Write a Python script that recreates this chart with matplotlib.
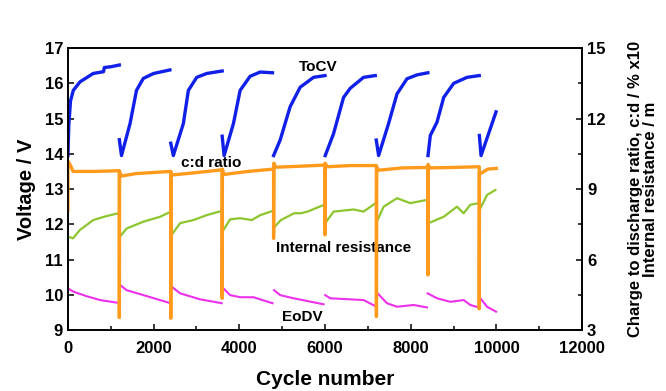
import matplotlib

matplotlib.use("Agg")
import matplotlib.pyplot as plt
from matplotlib.ticker import MultipleLocator

plt.rcParams["font.family"] = ["Liberation Sans", "DejaVu Sans"]
plt.rcParams["font.weight"] = "bold"

# --- data (cycle number vs value) ---
# ToCV, left axis (V), one list per 1200-cycle block
tocv_cycle = [
    [0, 20, 60, 125, 280, 590, 830, 850, 1000, 1200],
    [1200, 1250, 1450, 1600, 1760, 2000, 2380],
    [2400, 2460, 2694, 2811, 3006, 3240, 3600],
    [3600, 3645, 3863, 4019, 4252, 4486, 4774],
    [4800, 4953, 5187, 5421, 5732, 6000],
    [6005, 6199, 6433, 6589, 6900, 7173],
    [7196, 7251, 7484, 7680, 7913, 8147, 8400],
    [8404, 8458, 8614, 8770, 9003, 9315, 9600],
    [9603, 9642, 9992],
]
tocv_volt = [
    [13.95, 14.8, 15.5, 15.8, 16.04, 16.28, 16.33, 16.45, 16.47, 16.52],
    [14.4, 13.95, 14.86, 15.8, 16.14, 16.28, 16.38],
    [14.3, 13.95, 14.86, 15.8, 16.17, 16.28, 16.35],
    [14.5, 13.95, 14.86, 15.8, 16.2, 16.32, 16.3],
    [13.95, 14.39, 15.34, 15.89, 16.17, 16.22],
    [13.95, 14.57, 15.6, 15.86, 16.17, 16.22],
    [14.39, 13.95, 14.86, 15.7, 16.13, 16.24, 16.3],
    [13.95, 14.52, 14.9, 15.6, 16.0, 16.17, 16.22],
    [14.52, 13.95, 15.19],
]

# EoDV, left axis (V)
eodv_cycle = [
    [0, 125, 435, 750, 1175],
    [1215, 1370, 1760, 2370],
    [2420, 2620, 3085, 3590],
    [3630, 3785, 4020, 4330, 4775],
    [4810, 4955, 5265, 5965],
    [6005, 6120, 6900, 7173],
    [7228, 7445, 7680, 8070, 8380],
    [8396, 8614, 8925, 9237, 9392, 9587],
    [9626, 9782, 9992],
]
eodv_volt = [
    [10.18, 10.09, 9.96, 9.85, 9.77],
    [10.28, 10.13, 9.99, 9.77],
    [10.23, 10.04, 9.87, 9.76],
    [10.18, 9.99, 9.93, 9.93, 9.76],
    [10.13, 9.99, 9.9, 9.73],
    [9.99, 9.9, 9.85, 9.68],
    [10.04, 9.76, 9.66, 9.71, 9.64],
    [10.04, 9.9, 9.8, 9.85, 9.71, 9.64],
    [9.9, 9.66, 9.52],
]

# charge-to-discharge ratio, right axis (one continuous trace)
cd_cycle = [0, 0, 60, 120, 600, 1200,
            1200, 1205, 1230, 1600, 2400,
            2400, 2405, 2430, 3000, 3600,
            3600, 3605, 3640, 4200, 4800,
            4800, 4805, 4850, 5400, 6000,
            6000, 6005, 6050, 6600, 7200,
            7200, 7205, 7250, 7800, 8400,
            8400, 8405, 8450, 9000, 9600,
            9600, 9605, 9650, 9800, 10000]
cd_ratio = [8.1, 10.2, 10.0, 9.75, 9.75, 9.78,
            3.53, 9.75, 9.55, 9.66, 9.75,
            3.5, 9.72, 9.6, 9.7, 9.82,
            4.35, 9.85, 9.62, 9.75, 9.85,
            6.9, 10.1, 9.93, 9.97, 10.02,
            7.05, 10.1, 9.95, 10.0, 10.0,
            3.57, 9.95, 9.8, 9.9, 9.92,
            5.34, 10.05, 9.9, 9.92, 9.95,
            3.9, 9.7, 9.68, 9.85, 9.88]

# internal resistance, right axis
ir_cycle = [
    [0, 117, 280, 590, 900, 1180],
    [1215, 1370, 1760, 2150, 2370],
    [2420, 2620, 2930, 3240, 3590],
    [3630, 3785, 4020, 4290, 4490, 4780],
    [4830, 4970, 5280, 5440, 5590, 5980],
    [6030, 6200, 6670, 6900, 7173],
    [7228, 7368, 7680, 7990, 8380],
    [8420, 8770, 9080, 9236, 9392, 9587],
    [9626, 9782, 9977],
]
ir_value = [
    [6.98, 6.9, 7.26, 7.68, 7.85, 7.97],
    [6.98, 7.32, 7.61, 7.82, 8.01],
    [7.05, 7.55, 7.68, 7.89, 8.07],
    [7.26, 7.71, 7.76, 7.68, 7.89, 8.07],
    [7.4, 7.68, 7.97, 7.97, 8.04, 8.33],
    [7.61, 8.04, 8.13, 8.04, 8.39],
    [7.68, 8.25, 8.61, 8.4, 8.54],
    [7.55, 7.82, 8.25, 7.97, 8.33, 8.4],
    [8.18, 8.75, 8.96],
]

blue = "#1020e8"
orange = "#ff9a1c"
green = "#8dc52e"
magenta = "#ec30ec"

fig = plt.figure(figsize=(6.66, 3.91), dpi=100)
ax = fig.add_axes([0.102, 0.156, 0.772, 0.721])
ax2 = ax.twinx()

for xs, ys in zip(tocv_cycle, tocv_volt):
    ax.plot(xs, ys, color=blue, lw=2.4)
for xs, ys in zip(eodv_cycle, eodv_volt):
    ax.plot(xs, ys, color=magenta, lw=1.5)
for xs, ys in zip(ir_cycle, ir_value):
    ax2.plot(xs, ys, color=green, lw=1.6)
ax2.plot(cd_cycle, cd_ratio, color=orange, lw=2.4)

ax.set_xlim(0, 12000)
ax.set_ylim(9, 17)
ax2.set_ylim(3, 15)

ax.xaxis.set_major_locator(MultipleLocator(2000))
ax.xaxis.set_minor_locator(MultipleLocator(1000))
ax.yaxis.set_major_locator(MultipleLocator(1))
ax2.yaxis.set_major_locator(MultipleLocator(3))
ax2.yaxis.set_minor_locator(MultipleLocator(1.5))

for a in (ax, ax2):
    a.tick_params(which="both", direction="in", labelsize=12, width=1.1)
    a.tick_params(which="major", length=4)
    a.tick_params(which="minor", length=3)
    for s in a.spines.values():
        s.set_linewidth(1.2)
ax.tick_params(axis="x", which="major", pad=8)

ax.set_xlabel("Cycle number", fontsize=15, fontweight="bold", labelpad=10)
ax.set_ylabel("Voltage / V", fontsize=14.5, fontweight="bold", labelpad=6)
ax2.set_ylabel("Charge to discharge ratio, c:d / % x10\nInternal resistance / m",
               fontsize=12, fontweight="bold", labelpad=16, linespacing=1.0)

ax.text(5830, 16.45, "ToCV", fontsize=11, fontweight="bold", ha="center", va="center")
ax.text(3341, 13.73, "c:d ratio", fontsize=11, fontweight="bold", ha="center", va="center")
ax.text(6433, 11.34, "Internal resistance", fontsize=11, fontweight="bold",
        ha="center", va="center")
ax.text(5480, 9.38, "EoDV", fontsize=11, fontweight="bold", ha="center", va="center")

fig.savefig("out.png", dpi=100)
